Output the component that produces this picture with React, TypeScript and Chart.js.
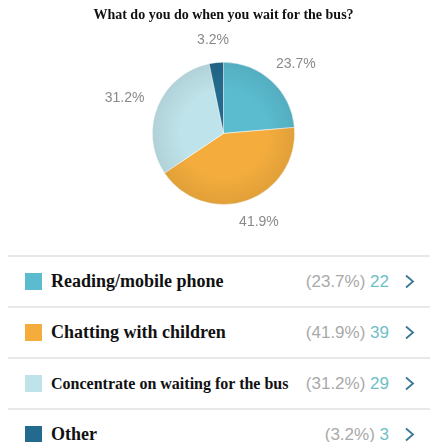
import React, { useEffect, useRef } from "react";
import { Chart, registerables } from "chart.js";

Chart.register(...registerables);

const title = "What do you do when you wait for the bus?";
const categories = [
  "Reading/mobile phone",
  "Chatting with children",
  "Concentrate on waiting for the bus",
  "Other",
];
const counts = [22, 39, 29, 3];
const percentLabels = ["23.7%", "41.9%", "31.2%", "3.2%"];
const sliceColors = ["#5bbcd0", "#f4ad3d", "#bfe3ea", "#236b8e"];
const legendFontSizes = [18, 18, 16, 18];

const outerLabels = {
  id: "outerLabels",
  afterDatasetsDraw(chart: any) {
    const ctx = chart.ctx;
    const meta = chart.getDatasetMeta(0);
    ctx.save();
    const first = meta.data[0];
    if (first) {
      const { x, y, outerRadius } = first.getProps(["x", "y", "outerRadius"], true);
      const g = ctx.createRadialGradient(x, y, outerRadius * 0.6, x, y, outerRadius);
      g.addColorStop(0, "rgba(0,0,0,0)");
      g.addColorStop(1, "rgba(0,0,0,0.08)");
      ctx.beginPath();
      ctx.arc(x, y, outerRadius, 0, Math.PI * 2);
      ctx.fillStyle = g;
      ctx.fill();
    }
    ctx.font = "14px 'Liberation Sans', Arial, sans-serif";
    ctx.fillStyle = "#8a8a8a";
    ctx.textAlign = "center";
    ctx.textBaseline = "middle";
    meta.data.forEach((arc: any, i: number) => {
      const { x, y, startAngle, endAngle, outerRadius } = arc.getProps(
        ["x", "y", "startAngle", "endAngle", "outerRadius"],
        true
      );
      const mid = (startAngle + endAngle) / 2;
      const d = outerRadius + 16;
      const text = percentLabels[i];
      const w = ctx.measureText(text).width;
      const px = x + Math.cos(mid) * (d + w / 2);
      const py = y + Math.sin(mid) * (d + 7);
      ctx.fillText(text, px, py);
    });
    ctx.restore();
  },
};

function Chevron() {
  return (
    <svg width="11" height="15" viewBox="0 0 11 15" style={{ display: "block" }}>
      <polyline points="2,1.5 9,7.5 2,13.5" fill="none" stroke="#3b7694" strokeWidth="1.8" />
    </svg>
  );
}

export default function App() {
  const canvasRef = useRef<HTMLCanvasElement>(null);

  useEffect(() => {
    document.body.style.margin = "0";
    const chart = new Chart(canvasRef.current!, {
      type: "pie",
      data: {
        labels: categories,
        datasets: [
          {
            data: counts,
            backgroundColor: sliceColors,
            borderColor: "rgba(255,255,255,0.5)",
            borderWidth: 1,
          },
        ],
      },
      options: {
        animation: false,
        responsive: true,
        maintainAspectRatio: false,
        layout: { padding: { left: 17, right: 0, top: 0, bottom: 50 } },
        plugins: {
          legend: { display: false },
          tooltip: { enabled: false },
          title: {
            display: true,
            text: title,
            color: "#111",
            font: { family: "'Liberation Serif', 'Times New Roman', serif", size: 14, weight: "bold" },
            padding: { top: 7, bottom: 38 },
          },
        },
      },
      plugins: [outerLabels],
    });
    return () => chart.destroy();
  }, []);

  return (
    <div style={{ width: 430, background: "#fff" }}>
      <div style={{ position: "relative", width: 430, height: 255 }}>
        <canvas ref={canvasRef} />
      </div>
      <div style={{ marginLeft: 8 }}>
        {categories.map((c, i) => (
          <div
            key={c}
            style={{
              borderTop: "2px solid #e8e8e8",
              height: 49,
              display: "flex",
              alignItems: "center",
              paddingLeft: 17,
              paddingRight: 15,
            }}
          >
            <div style={{ width: 17, height: 17, background: sliceColors[i], flex: "none" }} />
            <div
              style={{
                marginLeft: 9,
                fontFamily: "'Liberation Serif', 'Times New Roman', serif",
                fontWeight: "bold",
                fontSize: legendFontSizes[i],
                color: "#111",
                whiteSpace: "nowrap",
              }}
            >
              {c}
            </div>
            <div style={{ flex: 1 }} />
            <div
              style={{
                fontFamily: "'Liberation Sans', Arial, sans-serif",
                fontSize: 17,
                whiteSpace: "nowrap",
              }}
            >
              <span style={{ color: "#a9a9a9" }}>({percentLabels[i]})</span>
              <span style={{ color: "#6dbfc6" }}> {counts[i]}</span>
            </div>
            <div style={{ marginLeft: 15, flex: "none" }}>
              <Chevron />
            </div>
          </div>
        ))}
      </div>
    </div>
  );
}
